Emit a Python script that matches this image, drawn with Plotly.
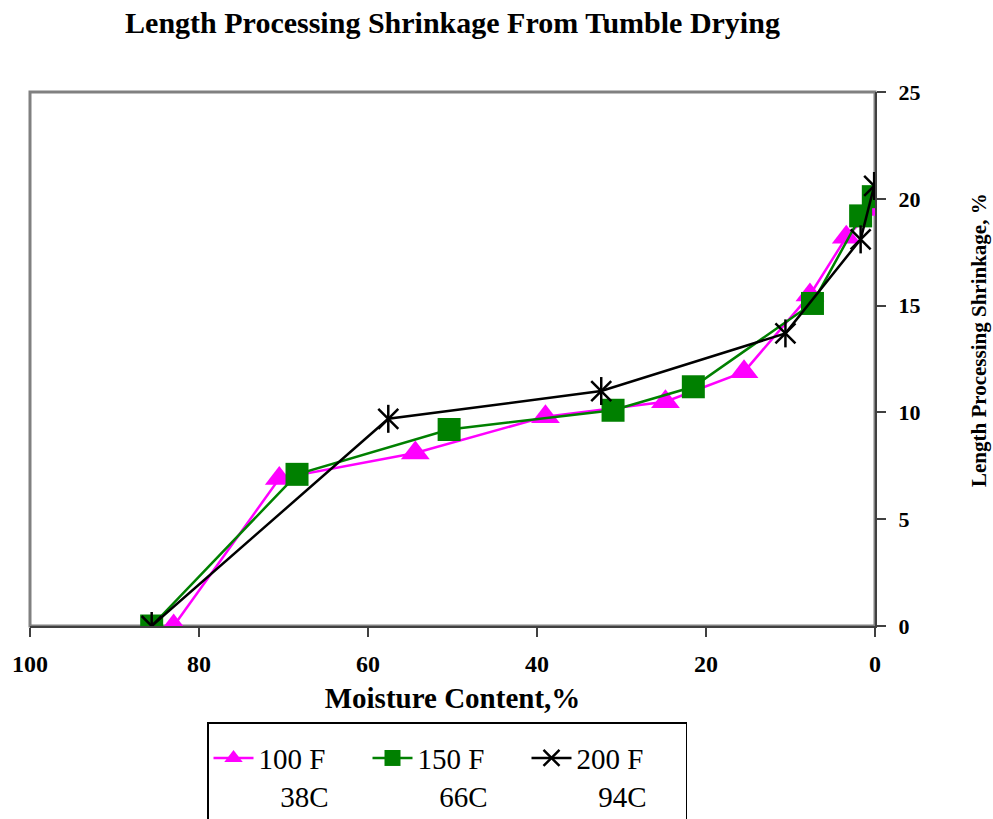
import plotly.graph_objects as go

# Data
mc_100 = [83.0, 70.5, 54.4, 39.0, 24.8, 15.5, 7.7, 3.4, 0.2]
sh_100 = [0.0, 6.9, 8.1, 9.8, 10.5, 11.9, 15.5, 18.2, 19.5]

mc_150 = [85.6, 68.4, 50.4, 31.0, 21.5, 7.4, 1.7, 0.2]
sh_150 = [0.0, 7.1, 9.2, 10.1, 11.2, 15.1, 19.2, 20.1]

mc_200 = [85.6, 57.6, 32.4, 10.6, 1.7, 0.1]
sh_200 = [0.0, 9.7, 11.0, 13.7, 18.1, 20.6]

x_ticks = [100, 80, 60, 40, 20, 0]
y_ticks = [0, 5, 10, 15, 20, 25]

names = ["100 F<br>\u00a0\u00a0\u00a038C", "150 F<br>\u00a0\u00a0\u00a066C", "200 F<br>\u00a0\u00a0\u00a094C"]

FONT = "Liberation Serif"

fig = go.Figure()

fig.add_trace(go.Scatter(
    x=mc_100, y=sh_100, mode="lines+markers", name=names[0],
    line=dict(color="#FF00FF", width=2.5),
    marker=dict(symbol="triangle-up", size=25, color="#FF00FF"),
))
fig.add_trace(go.Scatter(
    x=mc_150, y=sh_150, mode="lines+markers", name=names[1],
    line=dict(color="#008000", width=2.5),
    marker=dict(symbol="square", size=23, color="#008000"),
))
fig.add_trace(go.Scatter(
    x=mc_200, y=sh_200, mode="lines+markers", name=names[2],
    line=dict(color="#000000", width=2.5),
    marker=dict(symbol="x-thin-open", size=20, color="#000000",
                line=dict(color="#000000", width=2.5)),
))
fig.add_trace(go.Scatter(
    x=mc_200, y=sh_200, mode="markers", showlegend=False, hoverinfo="skip",
    marker=dict(symbol="line-ns-open", size=20, color="#000000",
                line=dict(color="#000000", width=2.5)),
))

fig.add_shape(type="rect", xref="x domain", yref="y domain",
              x0=0, x1=1, y0=0, y1=1,
              line=dict(color="#808080", width=3), layer="below")

fig.add_annotation(
    text="<b>Length Processing Shrinkage, %</b>",
    xref="paper", yref="paper",
    x=(979 - 30) / 845, y=(626 - 340) / 534,
    xanchor="center", yanchor="middle",
    textangle=-90, showarrow=False,
    font=dict(family=FONT, size=21, color="black"),
)

fig.update_layout(
    width=993, height=819,
    margin=dict(l=30, r=118, t=92, b=193, autoexpand=False),
    paper_bgcolor="white", plot_bgcolor="white",
    font=dict(family=FONT, color="black"),
    title=dict(
        text="<b>Length Processing Shrinkage From Tumble Drying</b>",
        font=dict(family=FONT, size=30, color="black"),
        xref="paper", x=0.5, xanchor="center",
        yref="container", y=1 - 22 / 819, yanchor="middle",
    ),
    xaxis=dict(
        range=[100, 0], tickvals=x_ticks, ticktext=[f"<b>{v}</b>" for v in x_ticks],
        showgrid=False, zeroline=False,
        showline=True, linecolor="#404040", linewidth=2,
        ticks="outside", ticklen=9, tickwidth=1.5, tickcolor="#404040",
        tickfont=dict(family=FONT, size=24, color="black"),
        ticklabelstandoff=6,
        title=dict(text="<b>Moisture Content,%</b>",
                   font=dict(family=FONT, size=29, color="black"),
                   standoff=12),
    ),
    yaxis=dict(
        range=[0, 25], tickvals=y_ticks, ticktext=[f"<b>{v}</b>" for v in y_ticks],
        side="right",
        showgrid=False, zeroline=False,
        showline=True, linecolor="#404040", linewidth=2,
        ticks="outside", ticklen=9, tickwidth=1.5, tickcolor="#404040",
        tickfont=dict(family=FONT, size=22, color="black"),
        ticklabelstandoff=8,
    ),
    legend=dict(
        orientation="h",
        xref="container", x=207 / 993, xanchor="left",
        yref="container", y=(819 - 722) / 819, yanchor="top",
        bgcolor="white", bordercolor="black", borderwidth=1.5,
        font=dict(family=FONT, size=29, color="black"),
        valign="top",
        entrywidth=104,
        itemwidth=40,
        title=dict(text="\u00a0", font=dict(size=7), side="top"),
    ),
)

fig.write_html("out.html", config={"displayModeBar": False},
               post_script="document.body.style.margin='0';")
